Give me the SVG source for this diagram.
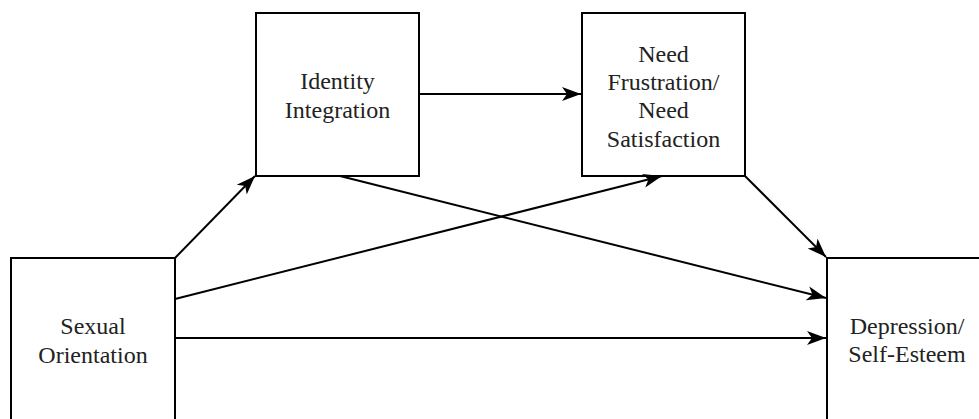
<svg xmlns="http://www.w3.org/2000/svg" width="979" height="419" viewBox="0 0 979 419">
<style>
.box{fill:#fff;stroke:#000;stroke-width:2}
.lbl{font-size:24px;fill:#222;text-anchor:middle}
.con{stroke:#000;stroke-width:2;fill:none;marker-end:url(#ah)}
</style>
<defs>
<marker id="ah" markerUnits="userSpaceOnUse" markerWidth="20" markerHeight="16" viewBox="0 0 20 16" refX="19" refY="8" orient="auto">
<path d="M0,1 L19,8 L0,15 L5,8 Z" fill="#000"/>
</marker>
</defs>
<rect width="979" height="419" fill="#fff"/>
<g id="n-sexual" font-family="Liberation Serif, Tinos, DejaVu Serif, serif">
<rect class="box" x="11" y="258" width="164" height="170"/>
<text class="lbl" x="93" y="334">Sexual</text>
<text class="lbl" x="93" y="363">Orientation</text>
</g>
<g id="n-identity" font-family="Liberation Serif, Tinos, DejaVu Serif, serif">
<rect class="box" x="256" y="13" width="163" height="163"/>
<text class="lbl" x="337.5" y="89">Identity</text>
<text class="lbl" x="337.5" y="118">Integration</text>
</g>
<g id="n-need" font-family="Liberation Serif, Tinos, DejaVu Serif, serif">
<rect class="box" x="582" y="13" width="163" height="163"/>
<text class="lbl" x="663.5" y="62">Need</text>
<text class="lbl" x="663.5" y="90">Frustration/</text>
<text class="lbl" x="663.5" y="118">Need</text>
<text class="lbl" x="663.5" y="147">Satisfaction</text>
</g>
<g id="n-depression" font-family="Liberation Serif, Tinos, DejaVu Serif, serif">
<rect class="box" x="827" y="258" width="170" height="170"/>
<text class="lbl" x="907" y="334">Depression/</text>
<text class="lbl" x="907" y="362">Self-Esteem</text>
</g>
<g id="connectors">
<line class="con" x1="175" y1="258" x2="255" y2="176"/>
<line class="con" x1="175" y1="299" x2="662" y2="176"/>
<line class="con" x1="175" y1="338" x2="826" y2="338"/>
<line class="con" x1="419" y1="94" x2="581" y2="94"/>
<line class="con" x1="340" y1="176" x2="826" y2="298"/>
<line class="con" x1="745" y1="176" x2="826" y2="257"/>
</g>
</svg>
